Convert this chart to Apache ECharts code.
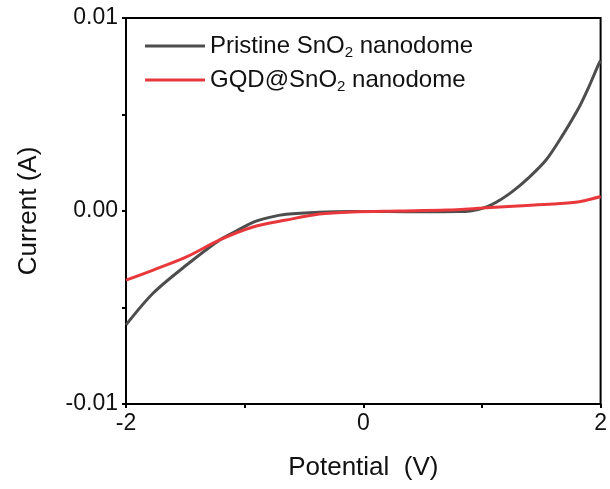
<!DOCTYPE html>
<html>
<head>
<meta charset="utf-8">
<script src="https://cdn.jsdelivr.net/npm/echarts@6/dist/echarts.min.js"></script>
<style>html,body{margin:0;padding:0;background:#fff}#c{width:610px;height:489px}</style>
</head>
<body>
<div id="c"></div>
<script>
const pristineX = [-2, -1.77, -1.49, -1.21, -1.07, -0.93, -0.79, -0.65, -0.37, -0.1, 0.2, 0.5, 0.8, 0.9, 0.975, 1.05, 1.12, 1.25, 1.4, 1.54, 1.67, 1.82, 1.9, 1.98, 2.0];
const pristineY = [-0.0059, -0.00425, -0.0028, -0.0015, -0.00104, -0.00059, -0.00033, -0.00017, -0.00006, -0.00003, -0.00003, -0.00004, -0.00003, 0.0, 0.00009, 0.00024, 0.00045, 0.00098, 0.00176, 0.00264, 0.00383, 0.00539, 0.00642, 0.00756, 0.0078];
const gqdX = [-2, -1.77, -1.49, -1.21, -0.93, -0.65, -0.37, -0.09, 0.3, 0.7, 1.0, 1.3, 1.6, 1.82, 2.0];
const gqdY = [-0.00358, -0.00306, -0.00238, -0.0015, -0.00083, -0.00047, -0.00016, -0.00005, 0.0, 0.00005, 0.00015, 0.00026, 0.00036, 0.00048, 0.00075];
const xTickLabels = {"-2": "-2", "0": "0", "2": "2"};
const yTickLabels = {"-0.01": "-0.01", "0": "0.00", "0.01": "0.01"};

const font = 'Liberation Sans, Arial, sans-serif';
const chart = echarts.init(document.getElementById('c'));
chart.setOption({
  animation: false,
  backgroundColor: '#fff',
  grid: { left: 126, right: 8, top: 18, bottom: 85, show: true, borderColor: '#000', borderWidth: 2 },
  legend: {
    orient: 'vertical', left: 140, top: 29, itemWidth: 60, itemHeight: 3, itemGap: 8,
    icon: 'rect',
    textStyle: {
      fontFamily: font, fontSize: 24, color: '#111',
      rich: { a: { fontFamily: font, fontSize: 24, color: '#111' }, s: { fontFamily: font, fontSize: 15, color: '#111', verticalAlign: 'bottom', padding: [13, 0, 0, 0] } }
    },
    formatter: function (n) {
      return n === 'p' ? '{a|Pristine SnO}{s|2}{a| nanodome}' : '{a|GQD@SnO}{s|2}{a| nanodome}';
    },
    data: ['p', 'g']
  },
  xAxis: {
    type: 'value', min: -2, max: 2, interval: 1,
    name: 'Potential  (V)', nameLocation: 'middle', nameGap: 51,
    nameTextStyle: { fontFamily: font, fontSize: 26, color: '#111' },
    axisLine: { show: true, onZero: false, lineStyle: { color: '#000', width: 2 } },
    axisTick: { show: true, length: 4, lineStyle: { color: '#000', width: 2 } },
    axisLabel: { fontFamily: font, fontSize: 23, color: '#111', margin: 8,
      formatter: v => xTickLabels[String(v)] || '' },
    splitLine: { show: false }
  },
  yAxis: {
    type: 'value', min: -0.01, max: 0.01, interval: 0.005,
    name: 'Current (A)', nameLocation: 'middle', nameGap: 84,
    nameTextStyle: { fontFamily: font, fontSize: 26, color: '#111' },
    axisLine: { show: true, onZero: false, lineStyle: { color: '#000', width: 2 } },
    axisTick: { show: true, length: 4, lineStyle: { color: '#000', width: 2 } },
    axisLabel: { fontFamily: font, fontSize: 23, color: '#111', margin: 8,
      formatter: v => { const k = String(Math.round(v * 1000) / 1000); return yTickLabels[k] || ''; } },
    splitLine: { show: false }
  },
  series: [
    { name: 'p', type: 'line', smooth: 0.3, showSymbol: false, symbol: 'none',
      lineStyle: { color: '#4d4d4d', width: 3 }, itemStyle: { color: '#4d4d4d' },
      data: pristineX.map((x, i) => [x, pristineY[i]]), z: 2 },
    { name: 'g', type: 'line', smooth: 0.3, showSymbol: false, symbol: 'none',
      lineStyle: { color: '#e8383c', width: 3 }, itemStyle: { color: '#e8383c' },
      data: gqdX.map((x, i) => [x, gqdY[i]]), z: 3 }
  ]
});
</script>
</body>
</html>
